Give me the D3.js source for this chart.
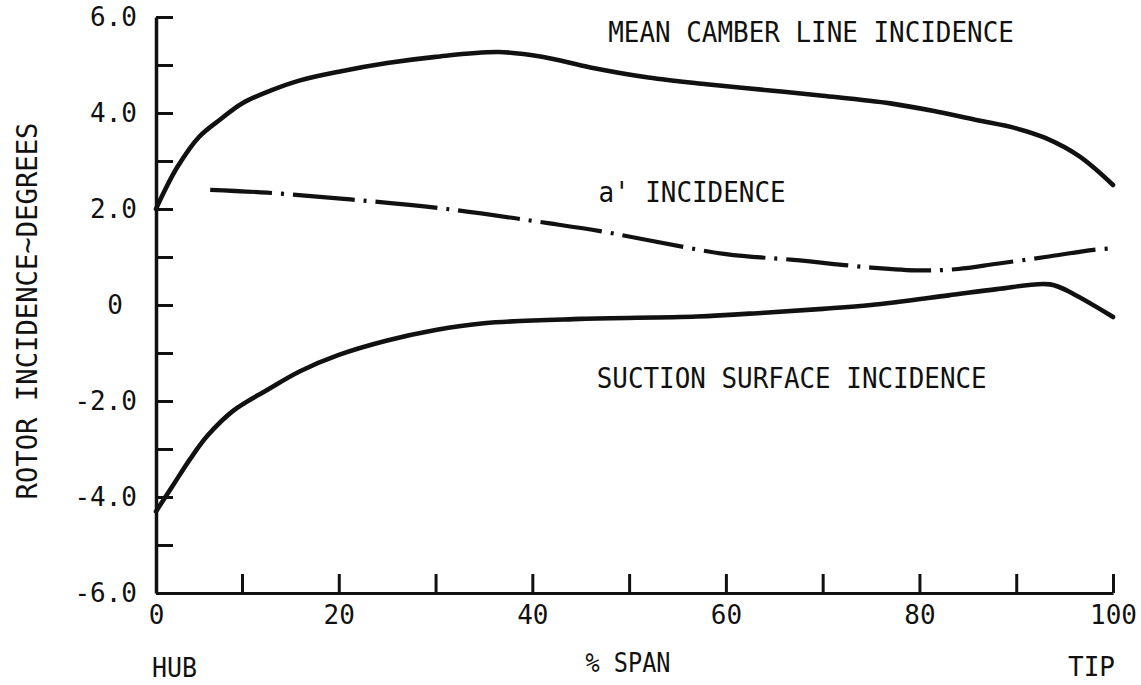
<!DOCTYPE html>
<html>
<head>
<meta charset="utf-8">
<script src="https://cdn.jsdelivr.net/npm/d3@7"></script>
<style>
  body { margin: 0; background: #fff; }
  svg text { font-family: "DejaVu Sans Mono", monospace; fill: #111; }
</style>
</head>
<body>
<svg id="chart" width="1141" height="685"></svg>
<script>
// Rotor incidence vs. percent span: [span %, incidence deg]
const meanCamber = [
  [0, 2.0], [1, 2.38], [2.5, 2.88], [5, 3.5], [7.5, 3.87], [10, 4.2], [13, 4.47],
  [16, 4.68], [20, 4.86], [25, 5.04], [30, 5.17], [36.5, 5.27], [41, 5.17],
  [46, 4.95], [52, 4.74], [58, 4.6], [64, 4.48], [70, 4.36], [77, 4.2],
  [82, 4.02], [86, 3.85], [90, 3.68], [93, 3.48], [96.5, 3.1], [100, 2.5]
];
const aPrime = [
  [6.3, 2.4], [12.6, 2.34], [21.2, 2.2], [31.2, 2.0], [41.8, 1.7], [47, 1.54],
  [52, 1.35], [60, 1.06], [67, 0.94], [75, 0.78], [80, 0.72], [84, 0.75],
  [88, 0.86], [93, 1.0], [98, 1.15], [100, 1.18]
];
const suction = [
  [0, -4.3], [2, -3.75], [4, -3.2], [6, -2.72], [9, -2.2], [12.6, -1.77],
  [16, -1.38], [20, -1.04], [25, -0.74], [30, -0.52], [35, -0.38], [45, -0.29],
  [57, -0.24], [64, -0.16], [70, -0.08], [75, 0.0], [83, 0.2], [88, 0.33],
  [93.5, 0.43], [96, 0.22], [100, -0.25]
];

const xTicks = [0, 10, 20, 30, 40, 50, 60, 70, 80, 90, 100];
const xTickLabels = ["0", "", "20", "", "40", "", "60", "", "80", "", "100"];
const yTicks = [-6, -5, -4, -3, -2, -1, 0, 1, 2, 3, 4, 5, 6];
const yTickLabels = ["-6.0", "", "-4.0", "", "-2.0", "", "0", "", "2.0", "", "4.0", "", "6.0"];

// label centre positions in data units [span %, incidence deg]
const curveLabels = [
  { text: "MEAN CAMBER LINE INCIDENCE", at: [68.8, 5.48] },
  { text: "a' INCIDENCE", at: [56.5, 2.15] },
  { text: "SUCTION SURFACE INCIDENCE", at: [66.8, -1.73] }
];

const svg = d3.select("#chart");

// span axis is slightly compressed in the first decade
const x = d3.scaleLinear().domain([0, 10, 100]).range([156, 242, 1113]);
const y = d3.scaleLinear().domain([-6, 6]).range([593, 17]);

const INK = "#111";
const FONT = '"DejaVu Sans Mono", monospace';

// x axis: ticks point up into the plot
const xAxis = svg.append("g")
  .attr("transform", `translate(0,${y(-6)})`)
  .call(d3.axisBottom(x)
    .tickValues(xTicks)
    .tickFormat((d, i) => xTickLabels[i])
    .tickSizeInner(-19).tickSizeOuter(0).tickPadding(13));
xAxis.select(".domain").attr("stroke", INK).attr("stroke-width", 3);
xAxis.selectAll(".tick line").attr("stroke", INK).attr("stroke-width", 3);
xAxis.selectAll(".tick text").attr("font-size", 26).attr("fill", INK)
  .style("font-family", FONT);

// y axis: ticks point right into the plot
const yAxis = svg.append("g")
  .attr("transform", `translate(${x(0)},0)`)
  .call(d3.axisLeft(y)
    .tickValues(yTicks)
    .tickFormat((d, i) => yTickLabels[i])
    .tickSizeInner(-17).tickSizeOuter(0).tickPadding(19));
yAxis.select(".domain").attr("stroke", INK).attr("stroke-width", 3.5);
yAxis.selectAll(".tick line").attr("stroke", INK).attr("stroke-width", 3);
yAxis.selectAll(".tick text").attr("font-size", 26).attr("fill", INK)
  .style("font-family", FONT);
// the bare zero sits centred under the decimal labels
yAxis.selectAll(".tick text").filter(d => d === 0)
  .attr("text-anchor", "middle").attr("x", -41);

// curves
const line = d3.line()
  .x(d => x(d[0]))
  .y(d => y(d[1]))
  .curve(d3.curveCatmullRom.alpha(0.5));

svg.append("path").datum(meanCamber)
  .attr("d", line).attr("fill", "none")
  .attr("stroke", INK).attr("stroke-width", 4.6).attr("stroke-linecap", "round");

svg.append("path").datum(suction)
  .attr("d", line).attr("fill", "none")
  .attr("stroke", INK).attr("stroke-width", 4.6).attr("stroke-linecap", "round");

svg.append("path").datum(aPrime)
  .attr("d", line).attr("fill", "none")
  .attr("stroke", INK).attr("stroke-width", 4.2)
  .attr("stroke-dasharray", "62,9,3,9");

// curve annotations (condensed typewriter lettering)
const CHAR_W = 15.6;
svg.selectAll("text.curve-label").data(curveLabels).join("text")
  .attr("class", "curve-label")
  .attr("x", d => x(d.at[0]))
  .attr("y", d => y(d.at[1]))
  .attr("text-anchor", "middle")
  .attr("font-size", 28)
  .attr("textLength", d => d.text.length * CHAR_W)
  .attr("lengthAdjust", "spacingAndGlyphs")
  .text(d => d.text);

// axis titles
svg.append("text")
  .attr("x", 628).attr("y", 672)
  .attr("text-anchor", "middle").attr("font-size", 26)
  .attr("textLength", 85).attr("lengthAdjust", "spacingAndGlyphs")
  .text("% SPAN");
svg.append("text")
  .attr("x", 152).attr("y", 677)
  .attr("font-size", 27)
  .attr("textLength", 45).attr("lengthAdjust", "spacingAndGlyphs")
  .text("HUB");
svg.append("text")
  .attr("x", 1115).attr("y", 676)
  .attr("text-anchor", "end").attr("font-size", 26)
  .text("TIP");

svg.append("text")
  .attr("transform", "translate(37,311) rotate(-90)")
  .attr("text-anchor", "middle")
  .attr("font-size", 29)
  .attr("textLength", 377).attr("lengthAdjust", "spacingAndGlyphs")
  .text("ROTOR INCIDENCE~DEGREES");
</script>
</body>
</html>
